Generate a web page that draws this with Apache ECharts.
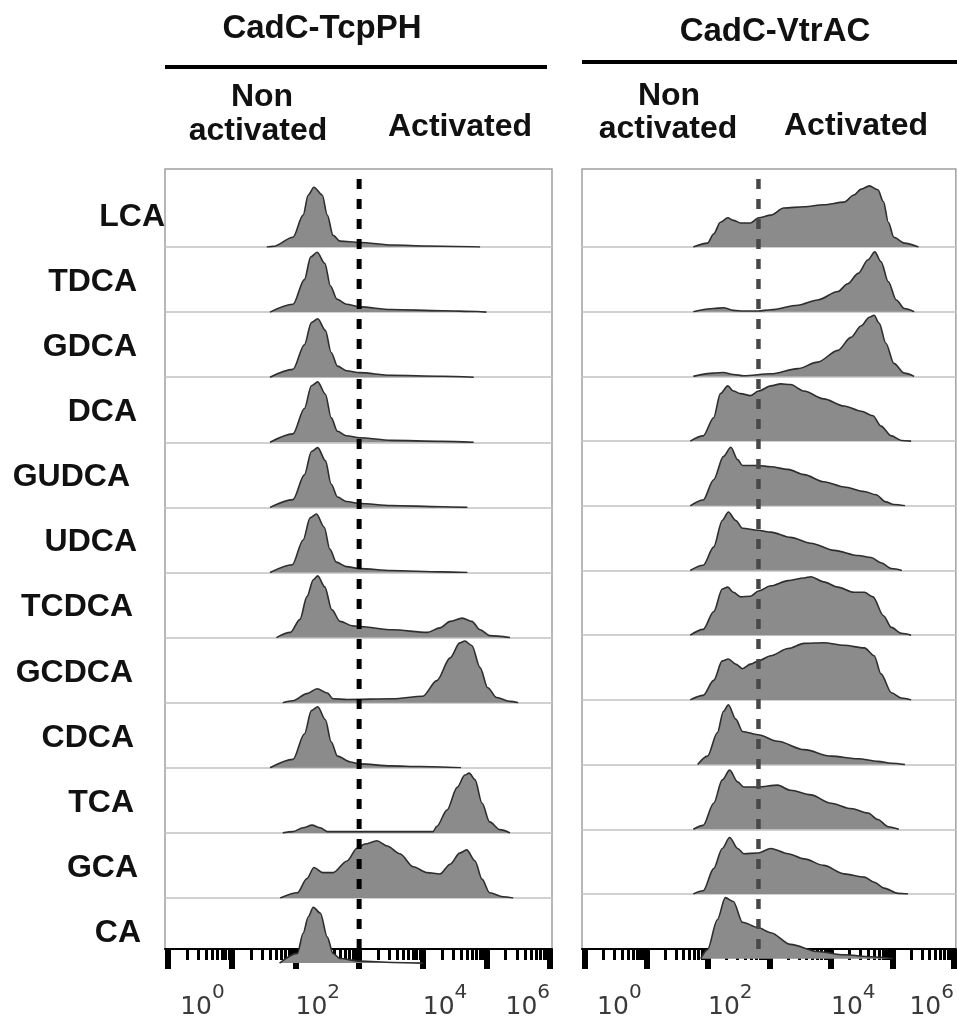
<!DOCTYPE html>
<html>
<head>
<meta charset="utf-8">
<script src="https://cdn.jsdelivr.net/npm/echarts@6/dist/echarts.min.js"></script>
<style>
  html, body { margin: 0; padding: 0; background: #fff; }
  #chart { width: 957px; height: 1020px; }
</style>
</head>
<body>
<div id="chart"></div>
<script>
// Flow-cytometry histograms of CadC reporter strains exposed to bile acids.
// Each point is [log10 fluorescence, normalised cell count].

const bileAcids = ['LCA', 'TDCA', 'GDCA', 'DCA', 'GUDCA', 'UDCA', 'TCDCA', 'GCDCA', 'CDCA', 'TCA', 'GCA', 'CA'];

// ---- CadC-TcpPH ----
const tcpLCA   = [[1.55,0],[1.65,0.01],[1.96,0.15],[2.12,0.49],[2.20,0.8],[2.29,0.92],[2.42,0.8],[2.50,0.49],[2.59,0.18],[2.70,0.09],[3.01,0.07],[3.53,0.03],[4.07,0.015],[4.9,0]];
const tcpTDCA  = [[1.6,0],[1.96,0.12],[2.14,0.5],[2.24,0.85],[2.34,0.92],[2.46,0.75],[2.55,0.4],[2.65,0.2],[2.8,0.12],[3.01,0.08],[3.5,0.04],[4.3,0.02],[4.85,0.01],[5.0,0]];
const tcpGDCA  = [[1.6,0],[1.96,0.12],[2.14,0.5],[2.25,0.84],[2.35,0.9],[2.47,0.72],[2.56,0.38],[2.66,0.17],[2.8,0.1],[3.01,0.07],[3.5,0.03],[4.3,0.015],[4.8,0]];
const tcpDCA   = [[1.6,0],[1.96,0.13],[2.14,0.52],[2.25,0.87],[2.35,0.93],[2.47,0.74],[2.56,0.38],[2.66,0.17],[2.8,0.1],[3.01,0.07],[3.5,0.03],[4.3,0.015],[4.8,0]];
const tcpGUDCA = [[1.6,0],[1.96,0.12],[2.14,0.5],[2.25,0.86],[2.35,0.92],[2.47,0.72],[2.56,0.36],[2.66,0.16],[2.8,0.09],[3.01,0.06],[3.5,0.03],[4.3,0.01],[4.7,0]];
const tcpUDCA  = [[1.6,0],[1.95,0.12],[2.12,0.5],[2.23,0.84],[2.33,0.9],[2.45,0.7],[2.54,0.36],[2.64,0.16],[2.8,0.09],[3.01,0.06],[3.5,0.03],[4.3,0.01],[4.7,0]];
const tcpTCDCA = [[1.7,0],[1.92,0.08],[2.07,0.28],[2.18,0.63],[2.28,0.89],[2.35,0.95],[2.46,0.78],[2.57,0.43],[2.70,0.25],[2.90,0.18],[3.01,0.17],[3.53,0.12],[4.07,0.08],[4.27,0.15],[4.43,0.25],[4.62,0.3],[4.77,0.25],[4.90,0.12],[5.05,0.03],[5.37,0]];
const tcpGCDCA = [[1.8,0],[1.96,0.03],[2.18,0.14],[2.34,0.215],[2.50,0.15],[2.59,0.06],[2.81,0.05],[3.53,0.06],[4.0,0.1],[4.22,0.34],[4.43,0.69],[4.58,0.92],[4.66,0.95],[4.77,0.88],[4.90,0.54],[5.02,0.23],[5.16,0.08],[5.37,0.02],[5.5,0]];
const tcpCDCA  = [[1.6,0],[1.96,0.13],[2.14,0.52],[2.25,0.88],[2.35,0.94],[2.47,0.74],[2.56,0.4],[2.66,0.18],[2.86,0.09],[3.01,0.06],[3.5,0.03],[3.96,0.02],[4.6,0]];
const tcpTCA   = [[1.8,0],[1.96,0.02],[2.12,0.08],[2.26,0.12],[2.39,0.08],[2.50,0.02],[3.0,0.02],[4.16,0.02],[4.22,0.1],[4.38,0.35],[4.54,0.7],[4.66,0.89],[4.73,0.92],[4.82,0.82],[4.93,0.46],[5.05,0.17],[5.21,0.05],[5.37,0]];
const tcpGCA   = [[1.76,0],[2.03,0.08],[2.18,0.3],[2.29,0.47],[2.43,0.39],[2.59,0.39],[2.81,0.57],[2.97,0.77],[3.09,0.83],[3.28,0.88],[3.44,0.8],[3.64,0.68],[3.85,0.48],[4.07,0.39],[4.27,0.37],[4.43,0.52],[4.58,0.69],[4.69,0.74],[4.82,0.57],[4.93,0.29],[5.05,0.08],[5.26,0.02],[5.42,0]];
const tcpCA    = [[1.75,0],[2.03,0.15],[2.12,0.46],[2.20,0.71],[2.28,0.86],[2.39,0.77],[2.50,0.4],[2.59,0.15],[2.70,0.07],[3.01,0.03],[3.53,0.01],[4.0,0]];

// ---- CadC-VtrAC ----
const vtrLCA   = [[1.76,0],[1.99,0.06],[2.09,0.2],[2.20,0.38],[2.32,0.45],[2.41,0.41],[2.53,0.37],[2.69,0.37],[2.82,0.45],[3.02,0.49],[3.23,0.6],[3.56,0.62],[3.88,0.65],[4.21,0.69],[4.37,0.8],[4.49,0.89],[4.62,0.94],[4.76,0.88],[4.85,0.7],[4.93,0.38],[5.02,0.15],[5.19,0.06],[5.42,0]];
const vtrTDCA  = [[1.76,0],[2.09,0.05],[2.25,0.06],[2.41,0.02],[2.58,0.01],[2.81,0.01],[3.02,0.03],[3.46,0.1],[3.78,0.18],[4.11,0.31],[4.27,0.43],[4.44,0.59],[4.60,0.8],[4.71,0.92],[4.81,0.77],[4.93,0.46],[5.06,0.18],[5.19,0.05],[5.35,0]];
const vtrGDCA  = [[1.76,0],[2.09,0.05],[2.25,0.06],[2.41,0.03],[2.58,0.01],[3.02,0.04],[3.46,0.12],[3.78,0.22],[4.11,0.4],[4.32,0.6],[4.49,0.78],[4.62,0.91],[4.70,0.94],[4.78,0.82],[4.89,0.51],[5.02,0.2],[5.19,0.05],[5.35,0]];
const vtrDCA   = [[1.71,0],[1.92,0.08],[2.09,0.36],[2.20,0.73],[2.32,0.85],[2.41,0.77],[2.53,0.73],[2.69,0.7],[2.82,0.77],[3.02,0.85],[3.18,0.88],[3.34,0.87],[3.56,0.77],[3.88,0.65],[4.21,0.54],[4.49,0.46],[4.68,0.39],[4.81,0.23],[4.98,0.08],[5.14,0.01],[5.3,0]];
const vtrGUDCA = [[1.71,0],[1.92,0.09],[2.09,0.4],[2.25,0.76],[2.37,0.9],[2.48,0.71],[2.56,0.62],[2.81,0.62],[3.02,0.6],[3.30,0.56],[3.56,0.48],[3.88,0.37],[4.21,0.29],[4.54,0.22],[4.73,0.17],[4.89,0.06],[5.02,0.02],[5.2,0]];
const vtrUDCA  = [[1.71,0],[1.92,0.08],[2.09,0.36],[2.23,0.77],[2.33,0.9],[2.45,0.77],[2.56,0.65],[2.81,0.62],[3.02,0.59],[3.34,0.51],[3.67,0.42],[4.05,0.31],[4.44,0.23],[4.65,0.2],[4.81,0.12],[4.98,0.03],[5.15,0]];
const vtrTCDCA = [[1.71,0],[1.92,0.09],[2.09,0.36],[2.23,0.71],[2.32,0.74],[2.41,0.66],[2.53,0.59],[2.69,0.6],[2.82,0.68],[3.02,0.76],[3.30,0.84],[3.56,0.88],[3.67,0.9],[3.88,0.82],[4.11,0.74],[4.37,0.66],[4.54,0.66],[4.68,0.59],[4.85,0.3],[4.98,0.12],[5.14,0.03],[5.3,0]];
const vtrGCDCA = [[1.71,0],[1.92,0.07],[2.09,0.3],[2.23,0.6],[2.33,0.63],[2.45,0.55],[2.56,0.48],[2.69,0.55],[2.82,0.6],[3.02,0.68],[3.30,0.79],[3.56,0.87],[3.88,0.88],[4.21,0.84],[4.54,0.8],[4.70,0.68],[4.81,0.4],[4.98,0.11],[5.14,0.03],[5.3,0]];
const vtrCDCA  = [[1.83,0],[1.99,0.13],[2.15,0.49],[2.25,0.82],[2.33,0.92],[2.45,0.7],[2.56,0.51],[2.81,0.46],[3.13,0.36],[3.56,0.23],[4.00,0.13],[4.44,0.09],[4.76,0.05],[4.98,0.02],[5.2,0]];
const vtrTCA   = [[1.76,0],[1.92,0.06],[2.09,0.4],[2.23,0.76],[2.35,0.91],[2.48,0.73],[2.58,0.65],[2.81,0.65],[3.13,0.68],[3.34,0.6],[3.67,0.53],[4.00,0.4],[4.32,0.32],[4.60,0.25],[4.76,0.15],[4.93,0.04],[5.1,0]];
const vtrGCA   = [[1.76,0],[1.92,0.05],[2.09,0.39],[2.23,0.7],[2.35,0.87],[2.48,0.7],[2.58,0.62],[2.81,0.63],[3.02,0.7],[3.30,0.62],[3.56,0.54],[3.88,0.44],[4.21,0.31],[4.54,0.26],[4.70,0.18],[4.86,0.09],[5.09,0.01],[5.25,0]];
const vtrCA    = [[1.88,0],[1.99,0.14],[2.15,0.6],[2.28,0.94],[2.41,0.88],[2.56,0.56],[2.81,0.48],[3.02,0.4],[3.34,0.22],[3.78,0.11],[4.21,0.06],[4.65,0.03],[5.0,0]];

const tcpRows = [tcpLCA, tcpTDCA, tcpGDCA, tcpDCA, tcpGUDCA, tcpUDCA, tcpTCDCA, tcpGCDCA, tcpCDCA, tcpTCA, tcpGCA, tcpCA];
const vtrRows = [vtrLCA, vtrTDCA, vtrGDCA, vtrDCA, vtrGUDCA, vtrUDCA, vtrTCDCA, vtrGCDCA, vtrCDCA, vtrTCA, vtrGCA, vtrCA];

// activation gates (log10 fluorescence)
const gateTcpPH = 3.0;
const gateVtrAC = 2.82;

// axis: decades 10^0 .. 10^6
const decadeTicks = [0, 1, 2, 3, 4, 5, 6];
const labelledDecades = [0, 2, 4, 6];
const minorTicks = [];
for (let d = 0; d < 6; d++) {
  for (let m = 2; m <= 9; m++) minorTicks.push(d + Math.log10(m));
}
const X_MIN = -0.05, X_MAX = 6.03;

const panels = [
  { title: 'CadC-TcpPH', rows: tcpRows, gate: gateTcpPH, gateColor: '#000', gateWidth: 5,
    left: 165, width: 387, top: 169, bottom: 963, base0: 247, step: 65.1, gateTop: 178 },
  { title: 'CadC-VtrAC', rows: vtrRows, gate: gateVtrAC, gateColor: '#484848', gateWidth: 4.5,
    left: 582, width: 374, top: 169, bottom: 959, base0: 247, step: 64.7, gateTop: 172 }
];
const ROW_H = 65;

const grid = [], xAxis = [], yAxis = [], series = [];

panels.forEach(p => {
  // outer frame with the log axis underneath
  const fg = grid.length;
  grid.push({ left: p.left, top: p.top, width: p.width, height: p.bottom - p.top,
              show: true, borderColor: '#a0a0a0', borderWidth: 1.5, backgroundColor: 'transparent' });
  const majorIdx = xAxis.length;
  xAxis.push({
    gridIndex: fg, type: 'value', min: X_MIN, max: X_MAX, position: 'bottom',
    axisLine: { show: true, onZero: false, lineStyle: { color: '#000', width: 2 } },
    axisTick: { show: true, customValues: decadeTicks, length: 20, lineStyle: { color: '#000', width: 6 } },
    axisLabel: {
      show: true, customValues: labelledDecades, margin: 29,
      align: 'left', alignMaxLabel: 'right',
      formatter: v => (v === 0 ? '{p|}' : '') + '{b|10}{s|' + v + '}',
      rich: {
        p: { width: 12 },
        b: { fontFamily: 'DejaVu Sans', fontSize: 25, lineHeight: 42, verticalAlign: 'bottom', color: '#3a3a3a' },
        s: { fontFamily: 'DejaVu Sans', fontSize: 20, verticalAlign: 'top', padding: [5, 0, 0, 0], color: '#3a3a3a' }
      }
    },
    splitLine: { show: false }
  });
  xAxis.push({
    gridIndex: fg, type: 'value', min: X_MIN, max: X_MAX, position: 'bottom',
    axisLine: { show: false, onZero: false },
    axisTick: { show: true, customValues: minorTicks, length: 11, lineStyle: { color: '#000', width: 3 } },
    axisLabel: { show: false },
    splitLine: { show: false }
  });
  const fy = yAxis.length;
  yAxis.push({ gridIndex: fg, type: 'value', min: 0, max: 1, show: false });

  // dashed activation gate
  const frameH = p.bottom - p.top;
  series.push({
    type: 'line', xAxisIndex: majorIdx, yAxisIndex: fy, silent: true, animation: false,
    data: [[p.gate, 0], [p.gate, (p.bottom - p.gateTop) / frameH]],
    symbol: 'none', z: 10,
    lineStyle: { color: p.gateColor, width: p.gateWidth, type: [10, 10] }
  });

  // one stacked strip per bile acid
  p.rows.forEach((pts, k) => {
    const base = p.base0 + p.step * k;
    const gi = grid.length;
    grid.push({ left: p.left, width: p.width, top: base - ROW_H, height: ROW_H });
    const xi = xAxis.length;
    xAxis.push({
      gridIndex: gi, type: 'value', min: X_MIN, max: X_MAX,
      axisLine: { show: k < p.rows.length - 1, onZero: false, lineStyle: { color: '#c2c2c2', width: 1.5 } },
      axisTick: { show: false }, axisLabel: { show: false }, splitLine: { show: false }
    });
    const yi = yAxis.length;
    yAxis.push({ gridIndex: gi, type: 'value', min: 0, max: 1, show: false });
    series.push({
      type: 'line', name: bileAcids[k], xAxisIndex: xi, yAxisIndex: yi,
      data: pts, smooth: 0.3, smoothMonotone: 'x', symbol: 'none', animation: false, z: 3,
      lineStyle: { color: '#2e2e2e', width: 1.6 },
      areaStyle: { color: '#8b8b8b', opacity: 1 }
    });
  });
});

// text and header bars
const boldFont = sz => 'bold ' + sz + 'px "Liberation Sans", Arial, Helvetica, sans-serif';
function label(text, x, y, size, align) {
  return { type: 'text', x: x, y: y, silent: true, z: 20,
           style: { text: text, font: boldFont(size), fill: '#111',
                    align: align || 'center', textAlign: align || 'center',
                    verticalAlign: 'middle', textVerticalAlign: 'middle' } };
}
const graphics = [
  label('CadC-TcpPH', 322, 29, 33),
  label('CadC-VtrAC', 775, 32, 33),
  { type: 'rect', shape: { x: 165, y: 65, width: 382, height: 4 }, style: { fill: '#000' }, silent: true },
  { type: 'rect', shape: { x: 582, y: 60, width: 375, height: 4 }, style: { fill: '#000' }, silent: true },
  label('Non', 262, 97, 32), label('activated', 258, 131, 32), label('Activated', 460, 127, 32),
  label('Non', 669, 96, 32), label('activated', 668, 129, 32), label('Activated', 856, 126, 32)
];
const labelRight = [165, 137, 137, 137, 130, 137, 133, 133, 134, 134, 138, 141];
bileAcids.forEach((name, k) => {
  graphics.push(label(name, labelRight[k], panels[0].base0 + panels[0].step * k - 30, 32, 'right'));
});

const chart = echarts.init(document.getElementById('chart'), null, { renderer: 'canvas' });
chart.setOption({
  animation: false,
  backgroundColor: '#fff',
  grid: grid, xAxis: xAxis, yAxis: yAxis, series: series,
  graphic: graphics
});
</script>
</body>
</html>
